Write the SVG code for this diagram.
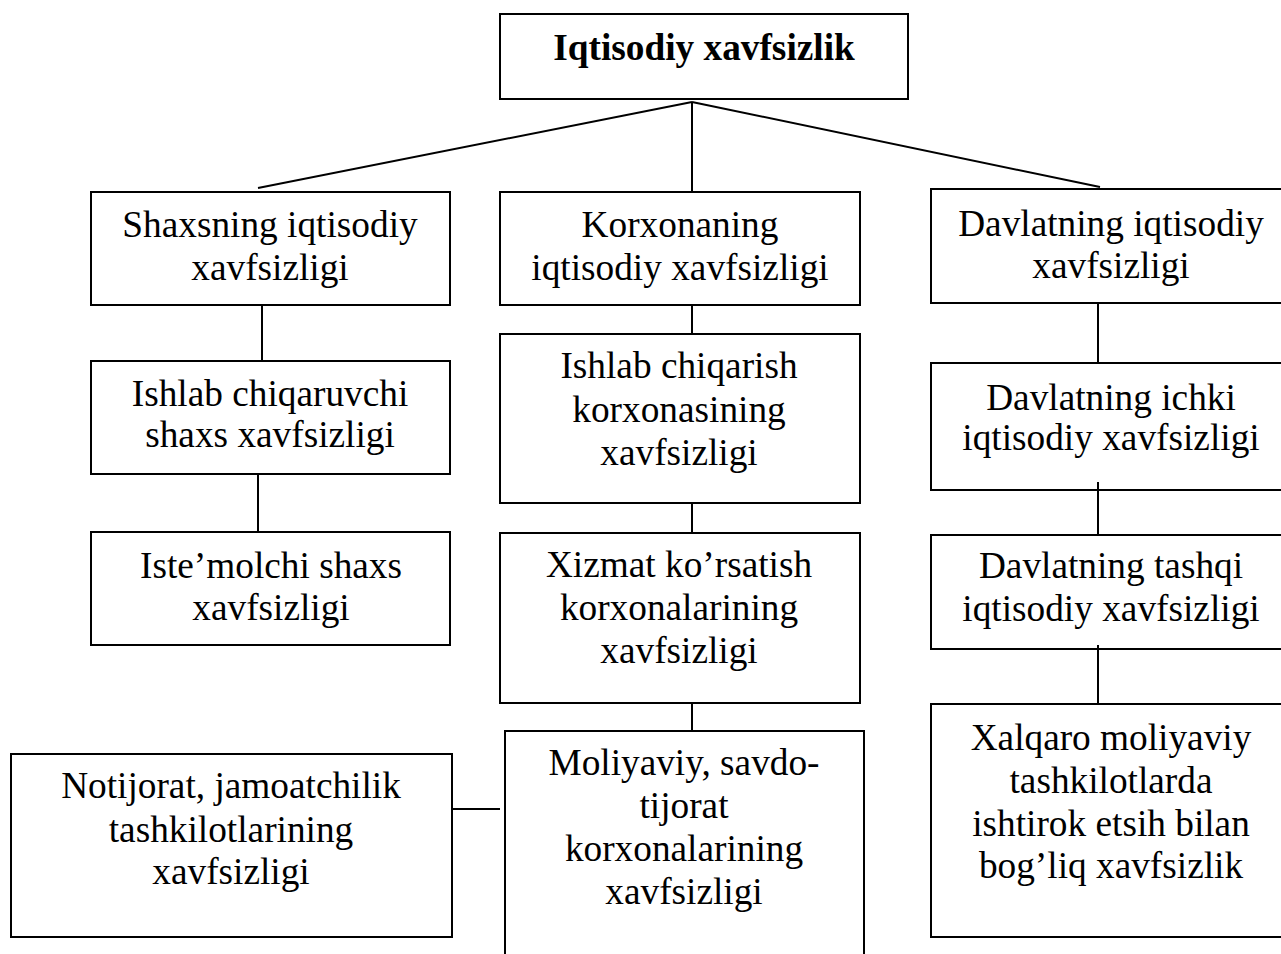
<svg xmlns="http://www.w3.org/2000/svg" width="1281" height="954" viewBox="0 0 1281 954">
<style>
.box{fill:#fff;stroke:#000;stroke-width:2}
.t{font-family:"Liberation Serif","Times New Roman",serif;font-size:37.3px;fill:#000;text-anchor:middle}
.b{font-weight:bold}
.c{stroke:#000;stroke-width:2;fill:none}
</style>
<rect width="1281" height="954" fill="#fff"/>
<g id="n-root">
<rect class="box" x="500" y="14" width="408" height="85"/>
<text class="t b" x="704" y="60">Iqtisodiy xavfsizlik</text>
</g>
<g id="n-shaxs">
<rect class="box" x="91" y="192" width="359" height="113"/>
<text class="t" x="270" y="237">Shaxsning iqtisodiy</text>
<text class="t" x="270" y="280">xavfsizligi</text>
</g>
<g id="n-korxona">
<rect class="box" x="500" y="192" width="360" height="113"/>
<text class="t" x="680" y="237">Korxonaning</text>
<text class="t" x="680" y="280">iqtisodiy xavfsizligi</text>
</g>
<g id="n-davlat">
<rect class="box" x="931" y="189" width="360" height="114"/>
<text class="t" x="1111" y="236">Davlatning iqtisodiy</text>
<text class="t" x="1111" y="278">xavfsizligi</text>
</g>
<g id="n-ishlab-shaxs">
<rect class="box" x="91" y="361" width="359" height="113"/>
<text class="t" x="270" y="406">Ishlab chiqaruvchi</text>
<text class="t" x="270" y="447">shaxs xavfsizligi</text>
</g>
<g id="n-ishlab-korxona">
<rect class="box" x="500" y="334" width="360" height="169"/>
<text class="t" x="679" y="378">Ishlab chiqarish</text>
<text class="t" x="679" y="422">korxonasining</text>
<text class="t" x="679" y="465">xavfsizligi</text>
</g>
<g id="n-ichki">
<rect class="box" x="931" y="363" width="360" height="127"/>
<text class="t" x="1111" y="410">Davlatning ichki</text>
<text class="t" x="1111" y="450">iqtisodiy xavfsizligi</text>
</g>
<g id="n-istemol">
<rect class="box" x="91" y="532" width="359" height="113"/>
<text class="t" x="271" y="578">Iste’molchi shaxs</text>
<text class="t" x="271" y="620">xavfsizligi</text>
</g>
<g id="n-xizmat">
<rect class="box" x="500" y="533" width="360" height="170"/>
<text class="t" x="679" y="577">Xizmat ko’rsatish</text>
<text class="t" x="679" y="620">korxonalarining</text>
<text class="t" x="679" y="663">xavfsizligi</text>
</g>
<g id="n-tashqi">
<rect class="box" x="931" y="535" width="360" height="114"/>
<text class="t" x="1111" y="578">Davlatning tashqi</text>
<text class="t" x="1111" y="621">iqtisodiy xavfsizligi</text>
</g>
<g id="n-notijorat">
<rect class="box" x="11" y="754" width="441" height="183"/>
<text class="t" x="231" y="798">Notijorat, jamoatchilik</text>
<text class="t" x="231" y="842">tashkilotlarining</text>
<text class="t" x="231" y="884">xavfsizligi</text>
</g>
<g id="n-moliyaviy">
<rect class="box" x="505" y="731" width="359" height="240"/>
<text class="t" x="684" y="775">Moliyaviy, savdo-</text>
<text class="t" x="684" y="818">tijorat</text>
<text class="t" x="684" y="861">korxonalarining</text>
<text class="t" x="684" y="904">xavfsizligi</text>
</g>
<g id="n-xalqaro">
<rect class="box" x="931" y="704" width="360" height="233"/>
<text class="t" x="1111" y="750">Xalqaro moliyaviy</text>
<text class="t" x="1111" y="793">tashkilotlarda</text>
<text class="t" x="1111" y="836">ishtirok etsih bilan</text>
<text class="t" x="1111" y="878">bog’liq xavfsizlik</text>
</g>
<g id="connectors">
<line class="c" x1="692" y1="102" x2="258" y2="188"/>
<line class="c" x1="692" y1="102" x2="692" y2="191"/>
<line class="c" x1="692" y1="102" x2="1100" y2="187"/>
<line class="c" x1="262" y1="305" x2="262" y2="361"/>
<line class="c" x1="258" y1="474" x2="258" y2="532"/>
<line class="c" x1="692" y1="305" x2="692" y2="334"/>
<line class="c" x1="692" y1="503" x2="692" y2="533"/>
<line class="c" x1="692" y1="703" x2="692" y2="731"/>
<line class="c" x1="1098" y1="303" x2="1098" y2="363"/>
<line class="c" x1="1098" y1="482" x2="1098" y2="535"/>
<line class="c" x1="1098" y1="645" x2="1098" y2="704"/>
<line class="c" x1="452" y1="809" x2="500" y2="809"/>
</g>
</svg>
